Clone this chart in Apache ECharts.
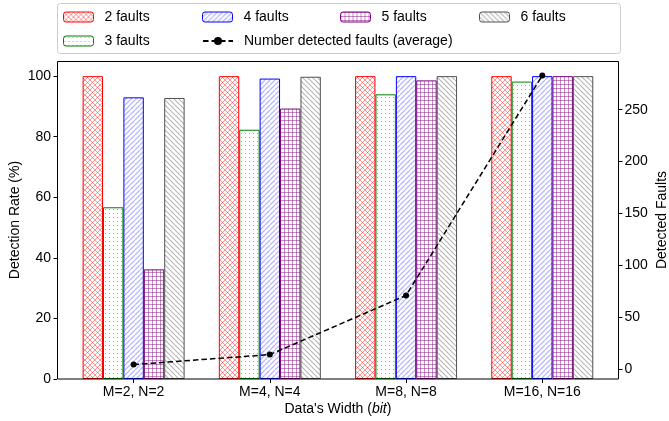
<!DOCTYPE html>
<html>
<head>
<meta charset="utf-8">
<script src="https://cdn.jsdelivr.net/npm/echarts@6/dist/echarts.min.js"></script>
<style>
  html, body { margin: 0; padding: 0; background: #fff; }
  #chart { width: 669px; height: 421px; }
</style>
</head>
<body>
<div id="chart"></div>
<script>
// ---- data ----
const categories = ['M=2, N=2', 'M=4, N=4', 'M=8, N=8', 'M=16, N=16'];
const faults2 = [100, 100, 100, 100];
const faults3 = [56.7, 82.3, 94.0, 98.2];
const faults4 = [93.0, 99.2, 100, 100];
const faults5 = [36.2, 89.3, 98.6, 100];
const faults6 = [92.8, 99.8, 100, 100];
const avgDetected = [4.4, 14, 71, 283];
const leftTicks = [0, 20, 40, 60, 80, 100];
const rightTicks = [0, 50, 100, 150, 200, 250];

// ---- hatch patterns ----
function makePattern(kind, color, T, lw) {
  const c = document.createElement('canvas');
  c.width = T; c.height = T;
  const g = c.getContext('2d');
  g.fillStyle = '#ffffff';
  g.fillRect(0, 0, T, T);
  g.strokeStyle = color;
  g.fillStyle = color;
  g.lineWidth = lw || 1;
  const fwd = () => { for (const i of [-T, 0, T]) { g.beginPath(); g.moveTo(i, T); g.lineTo(i + T, 0); g.stroke(); } };
  const back = () => { for (const i of [-T, 0, T]) { g.beginPath(); g.moveTo(i, 0); g.lineTo(i + T, T); g.stroke(); } };
  if (kind === 'x') { fwd(); back(); }
  else if (kind === '/') { fwd(); }
  else if (kind === '\\') { back(); }
  else if (kind === '.') { g.fillRect(1, 1, 1, 1); }
  else if (kind === '+') {
    g.beginPath(); g.moveTo(0, 0.5); g.lineTo(T, 0.5); g.stroke();
    g.beginPath(); g.moveTo(0.5, 0); g.lineTo(0.5, T); g.stroke();
  }
  return { image: c, repeat: 'repeat' };
}

const FONT = 'Liberation Sans, Arial, sans-serif';

function barSeries(name, data, pattern, edge) {
  return {
    name, type: 'bar', data,
    barWidth: 20.4, barGap: '0%',
    itemStyle: { color: pattern, borderColor: edge, borderWidth: 1 },
    emphasis: { disabled: true },
    z: 2
  };
}

const legendBase = {
  itemWidth: 30, itemHeight: 10, padding: 0,
  itemStyle: { borderWidth: 1 },
  textStyle: { fontSize: 14, color: '#000', fontFamily: FONT, padding: [0, 0, 0, 6] },
  selectedMode: false, z: 5
};
function legendAt(name, left, top) {
  return Object.assign({}, legendBase, { data: [name], left, top });
}

const chart = echarts.init(document.getElementById('chart'), null, { renderer: 'canvas' });
chart.setOption({
  animation: false,
  backgroundColor: '#ffffff',
  textStyle: { fontFamily: FONT },
  grid: { left: 65.5, right: 58.6, top: 61, bottom: 42, containLabel: false, outerBoundsMode: 'none' },
  legend: [
    legendAt('2 faults', 63, 10),
    legendAt('4 faults', 202, 10),
    legendAt('5 faults', 340, 10),
    legendAt('6 faults', 479, 10),
    legendAt('3 faults', 63, 34),
    legendAt('Number detected faults (average)', 202, 34)
  ],
  graphic: [
    { type: 'rect', z: 0, shape: { x: 57.5, y: 3.5, width: 563, height: 50, r: 3 },
      style: { fill: '#fff', stroke: '#cccccc', lineWidth: 1 } },
    { type: 'rect', z: 10, silent: true, shape: { x: 57.5, y: 61.5, width: 561, height: 317.5 },
      style: { fill: 'none', stroke: '#000', lineWidth: 1 } }
  ],
  xAxis: {
    type: 'category', data: categories,
    axisLine: { show: false },
    axisTick: { show: true, alignWithLabel: true, length: 4, lineStyle: { color: '#000' } },
    axisLabel: { fontSize: 14, color: '#000', margin: 6, fontFamily: FONT },
    name: "Data's Width ({i|bit})",
    nameLocation: 'middle', nameGap: 23, nameMoveOverlap: false,
    nameTextStyle: { fontSize: 14, color: '#000', fontFamily: FONT,
      rich: { i: { fontStyle: 'italic', fontSize: 14, color: '#000', fontFamily: FONT } } }
  },
  yAxis: [
    {
      type: 'value', min: 0, max: 105, position: 'left', offset: 8.5,
      splitLine: { show: false },
      axisLine: { show: false },
      axisTick: { show: true, length: 3.5, lineStyle: { color: '#000' }, customValues: leftTicks },
      axisLabel: { fontSize: 14, color: '#000', margin: 6, fontFamily: FONT, customValues: leftTicks },
      name: 'Detection Rate (%)', nameLocation: 'middle', nameGap: 35, nameRotate: 90, nameMoveOverlap: false,
      nameTextStyle: { fontSize: 14, color: '#000', fontFamily: FONT }
    },
    {
      type: 'value', min: -9.5, max: 296.9, position: 'right', offset: 8.6,
      splitLine: { show: false },
      axisLine: { show: false },
      axisTick: { show: true, length: 3.5, lineStyle: { color: '#000' }, customValues: rightTicks },
      axisLabel: { fontSize: 14, color: '#000', margin: 5.5, fontFamily: FONT, customValues: rightTicks },
      name: 'Detected Faults', nameLocation: 'middle', nameGap: 36, nameRotate: 90, nameMoveOverlap: false,
      nameTextStyle: { fontSize: 14, color: '#000', fontFamily: FONT }
    }
  ],
  series: [
    barSeries('2 faults', faults2, makePattern('x', 'rgba(255,0,0,0.42)', 5, 1), '#ff0000'),
    barSeries('3 faults', faults3, makePattern('.', 'rgba(0,128,0,0.5)', 4), '#008000'),
    barSeries('4 faults', faults4, makePattern('/', 'rgba(0,0,255,0.28)', 5, 1.3), '#0000ff'),
    barSeries('5 faults', faults5, makePattern('+', 'rgba(128,0,128,0.45)', 4), '#800080'),
    barSeries('6 faults', faults6, makePattern('\\', 'rgba(0,0,0,0.3)', 5, 1.1), '#505050'),
    {
      name: 'Number detected faults (average)', type: 'line', yAxisIndex: 1,
      data: avgDetected,
      symbol: 'circle', symbolSize: 6,
      itemStyle: { color: '#000' },
      lineStyle: { color: '#000', width: 1.5, type: [5.5, 3] },
      emphasis: { disabled: true },
      z: 12
    }
  ]
});
</script>
</body>
</html>
